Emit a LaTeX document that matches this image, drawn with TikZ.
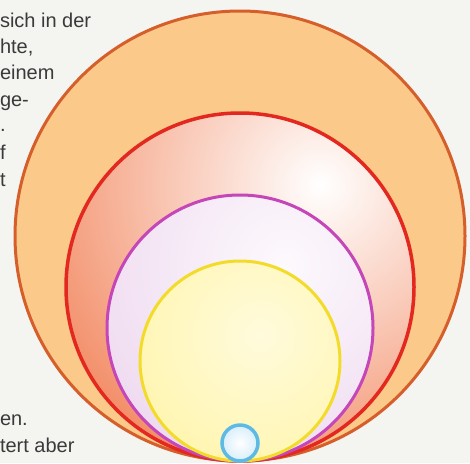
\documentclass[tikz,border=0pt]{standalone}
\usepackage{fontspec}
\setmainfont{Liberation Sans}
\definecolor{bg}{HTML}{F4F4F1}
\definecolor{textgray}{HTML}{3A3A3A}
\definecolor{outerfill}{HTML}{FBC98A}
\definecolor{outerline}{HTML}{D55E2A}
\definecolor{salmon}{HTML}{F3906B}
\definecolor{redline}{HTML}{E3281F}
\definecolor{lavender}{HTML}{EED8EF}
\definecolor{magline}{HTML}{C446B8}
\definecolor{yellowfill}{HTML}{FFF39A}
\definecolor{yellowline}{HTML}{F3DB2A}
\definecolor{bluefill}{HTML}{D8EEFA}
\definecolor{blueline}{HTML}{5DB9E6}
\begin{document}
\begin{tikzpicture}[x=1pt,y=-1pt,
  txt/.style={font=\fontsize{20}{24}\selectfont, text=textgray, anchor=base west, inner sep=0pt, outer sep=0pt}]
\useasboundingbox (0,0) rectangle (470,463);
\clip (0,0) rectangle (470,463);
\fill[bg] (0,0) rectangle (470,463);
% outer disc
\fill[outerfill] (240,236) circle[radius=225pt];
\draw[outerline, line width=3pt] (240,236) circle[radius=225pt];
% red disc
\begin{scope}
\clip (240,287) circle[radius=174pt];
\fill[salmon] (240,287) circle[radius=174pt];
\shade[inner color=white, outer color=salmon] (320,185) circle[radius=300pt];
\end{scope}
\draw[redline, line width=3.5pt] (240,287) circle[radius=174pt];
% magenta disc
\begin{scope}
\clip (240,328) circle[radius=133pt];
\fill[lavender] (240,328) circle[radius=133pt];
\shade[inner color=white!85!lavender, outer color=lavender] (285,265) circle[radius=230pt];
\end{scope}
\draw[magline, line width=3pt] (240,328) circle[radius=133pt];
% yellow disc
\begin{scope}
\clip (240,361) circle[radius=100pt];
\fill[yellowfill] (240,361) circle[radius=100pt];
\shade[inner color=white!65!yellowfill, outer color=yellowfill] (260,335) circle[radius=210pt];
\end{scope}
\draw[yellowline, line width=3pt] (240,361) circle[radius=100pt];
% small blue disc
\shade[inner color=white, outer color=bluefill] (240,443) circle[radius=18pt];
\draw[blueline, line width=3.5pt] (240,443) circle[radius=18pt];
% text fragments
\node[txt] (t1) at (0,27) {sich in der};
\node[txt] (t2) at (0,53) {hte,};
\node[txt] (t3) at (0,79) {einem};
\node[txt] (t4) at (0,106) {ge-};
\node[txt] (t5) at (0,131) {.};
\node[txt] (t6) at (0,159) {f};
\node[txt] (t7) at (0,186) {t};
\node[txt] (t8) at (0,425) {en.};
\node[txt] (t9) at (0,452) {tert aber};
\end{tikzpicture}
\end{document}
